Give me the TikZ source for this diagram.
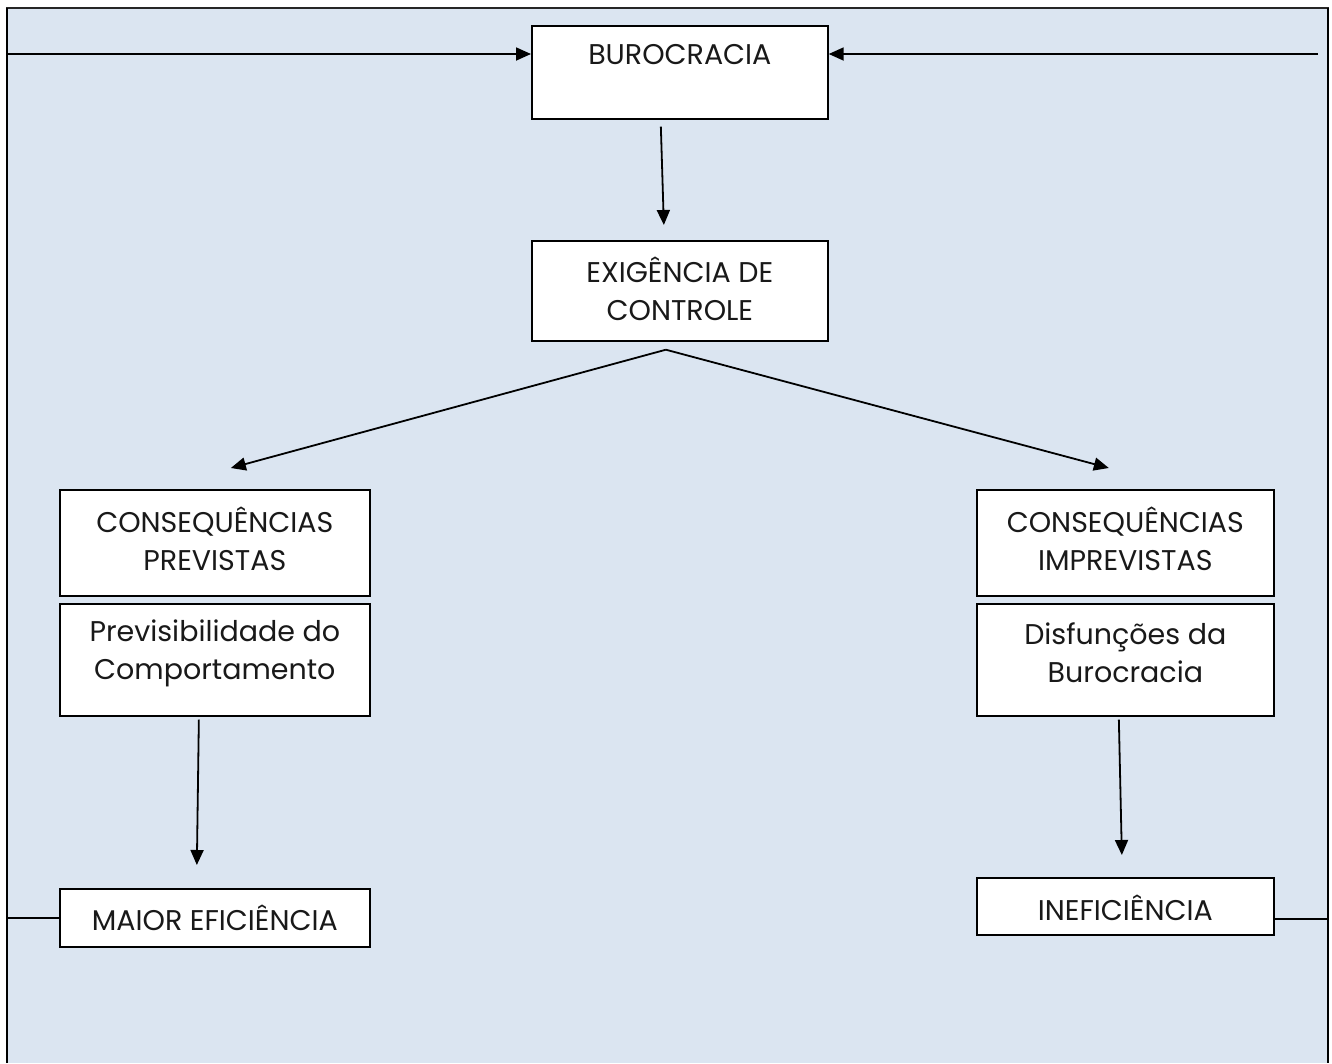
\documentclass[tikz,border=0pt]{standalone}
\usepackage{fontspec}
\setmainfont{Poppins}
\usetikzlibrary{arrows.meta,calc}
\definecolor{panelblue}{HTML}{DBE5F1}
\tikzset{
  box/.style={draw=black, line width=1.7pt, fill=white, anchor=north west, inner sep=0pt},
  lbl/.style={font=\fontsize{28.5}{38}\selectfont, align=center, inner sep=0pt, text=black!90},
  arr/.style={line width=1.8pt, -{Triangle[length=15pt,width=13pt]}},
  link/.style={line width=1.8pt}
}
\begin{document}
\begin{tikzpicture}[x=1pt,y=-1pt]
\useasboundingbox (0,0) rectangle (1332,1063);
% panel
\fill[panelblue] (7,8) rectangle (1328,1063);
\draw[line width=2pt, black!85] (7,1063) -- (7,8) -- (1328,8) -- (1328,1063);
\draw[line width=2.6pt] (7,8) -- (7,1063);
\draw[line width=2.2pt] (1328,8) -- (1328,1063);
\coordinate (fl) at (7,0);
\coordinate (fr) at (1328,0);

% boxes
\node[box, minimum width=296pt, minimum height=93pt] (bur) at (531,25) {};
\node[lbl] at ($(bur.north)+(0,30)$) {BUROCRACIA};

\node[box, minimum width=296pt, minimum height=100pt] (exig) at (531,240) {};
\node[lbl] at ($(exig.center)+(0,-2)$) {EXIGÊNCIA DE\\CONTROLE};

\node[box, minimum width=310pt, minimum height=106pt] (cprev) at (59,489) {};
\node[lbl] at ($(cprev.center)+(0,-4)$) {CONSEQUÊNCIAS\\PREVISTAS};

\node[box, minimum width=310pt, minimum height=112pt] (prevb) at (59,603) {};
\node[lbl] at ($(prevb.center)+(0,-7)$) {Previsibilidade do\\Comportamento};

\node[box, minimum width=310pt, minimum height=58pt] (maior) at (59,888) {};
\node[lbl] at (maior.center) {MAIOR EFICIÊNCIA};

\node[box, minimum width=297pt, minimum height=106pt] (cimp) at (976,489) {};
\node[lbl] at ($(cimp.center)+(0,-4)$) {CONSEQUÊNCIAS\\IMPREVISTAS};

\node[box, minimum width=297pt, minimum height=112pt] (disf) at (976,603) {};
\node[lbl] at ($(disf.center)+(0,-7)$) {Disfunções da\\Burocracia};

\node[box, minimum width=297pt, minimum height=57pt] (inef) at (976,877) {};
\node[lbl] at ($(inef.center)+(0,1)$) {INEFICIÊNCIA};

% connectors
\coordinate (lt) at (7,54);
\coordinate (rt) at (1318,54);
\draw[arr] (lt) -- (lt -| bur.west);
\draw[arr] (rt) -- (rt -| bur.east);
\draw[arr] ([xshift=-19pt,yshift=-7pt]bur.south) -- ([xshift=-16pt,yshift=15pt]exig.north);
\coordinate (split) at ([xshift=-14pt,yshift=-8pt]exig.south);
\draw[arr] (split) -- ([xshift=16pt,yshift=21pt]cprev.north);
\draw[arr] (split) -- ([xshift=-16.5pt,yshift=21pt]cimp.north);
\draw[arr] ([xshift=-16pt,yshift=-3pt]prevb.south) -- ([xshift=-18pt,yshift=23pt]maior.north);
\draw[arr] ([xshift=-6.5pt,yshift=-3pt]disf.south) -- ([xshift=-3.5pt,yshift=22pt]inef.north);
\draw[link] (maior.west) -- (maior.west -| fl);
\coordinate (ie) at ([yshift=-13pt]inef.east);
\draw[link] (ie) -- (ie -| fr);
\end{tikzpicture}
\end{document}
